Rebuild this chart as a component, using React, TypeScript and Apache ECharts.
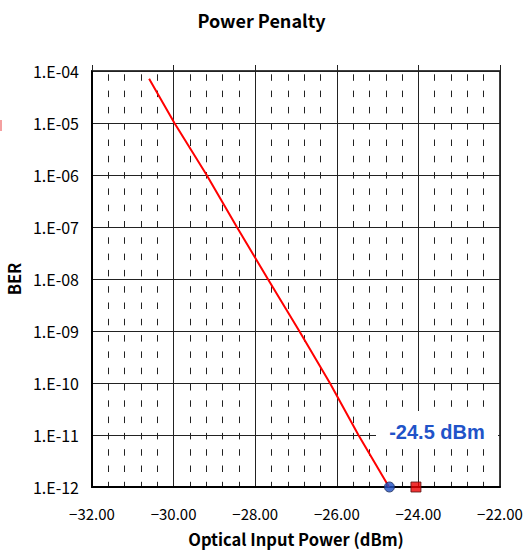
import React, { useEffect, useRef } from "react";
import * as echarts from "echarts";

const TITLE = "Power Penalty";
const X_NAME = "Optical Input Power (dBm)";
const Y_NAME = "BER";
// BER curve: [optical input power (dBm), BER]
const curvePower = [-30.6, -29.98, -29.19, -28.45, -27.69, -26.92, -26.17, -25.47, -24.72];
const curveBer = [7.1e-5, 1e-5, 1e-6, 1e-7, 1e-8, 1e-9, 1e-10, 1e-11, 1e-12];
const sensitivityPoint = [-24.71, 1e-12];
const penaltyPoint = [-24.06, 1e-12];
const annotationText = "-24.5 dBm";

const FONT = "'Noto Sans CJK JP', 'DejaVu Sans', sans-serif";

export default function App() {
  const ref = useRef<HTMLDivElement>(null);
  useEffect(() => {
    if (!ref.current) return;
    const chart = echarts.init(ref.current, undefined, { renderer: "svg" });
    const xCommon = {
      type: "value",
      min: -32,
      max: -22,
      interval: 2,
    };
    chart.setOption({
      animation: false,
      backgroundColor: "#fff",
      title: {
        text: TITLE,
        left: "center",
        top: 6,
        textStyle: { fontFamily: FONT, fontSize: 18, fontWeight: "bold", color: "#000" },
      },
      grid: {
        left: 92,
        right: 23,
        top: 71,
        bottom: 64,
        containLabel: false,
        outerBoundsMode: "none",
        show: true,
        borderColor: "#000",
        borderWidth: 1.5,
        backgroundColor: "transparent",
      },
      xAxis: [
        {
          ...xCommon,
          position: "bottom",
          name: X_NAME,
          nameLocation: "middle",
          nameGap: 44,
          nameTextStyle: { fontFamily: FONT, fontSize: 16.5, fontWeight: "bold", color: "#000" },
          axisLine: { show: true, lineStyle: { color: "#000", width: 2 } },
          axisTick: { show: false },
          axisLabel: {
            margin: 19,
            fontFamily: FONT,
            fontSize: 15,
            color: "#000",
            formatter: (v: number) => (v < 0 ? "\u2212" + Math.abs(v).toFixed(2) : v.toFixed(2)),
          },
          splitLine: { show: true, lineStyle: { color: "#222", width: 1 } },
          minorTick: { show: false, splitNumber: 5 },
          minorSplitLine: {
            show: true,
            lineStyle: { color: "#222", width: 1, type: [6.5, 9.8], dashOffset: 13 },
          },
        },
        {
          ...xCommon,
          position: "top",
          axisLine: { show: false },
          axisTick: { show: true, inside: false, length: 6, lineStyle: { color: "#222" } },
          axisLabel: { show: false },
          splitLine: { show: false },
        },
      ],
      yAxis: {
        type: "log",
        logBase: 10,
        min: 1e-12,
        max: 1e-4,
        interval: 1,
        name: Y_NAME,
        nameLocation: "middle",
        nameGap: 66,
        nameRotate: 90,
        nameTextStyle: { fontFamily: FONT, fontSize: 16.5, fontWeight: "bold", color: "#000" },
        axisLine: { show: true, lineStyle: { color: "#000", width: 2 } },
        axisTick: { show: false },
        axisLabel: {
          margin: 13,
          fontFamily: FONT,
          fontSize: 16,
          color: "#000",
          formatter: (v: number) => {
            const e = Math.round(Math.log10(v));
            const s = String(Math.abs(e)).padStart(2, "0");
            return "1.E" + (e < 0 ? "-" : "+") + s;
          },
        },
        splitLine: { show: true, lineStyle: { color: "#222", width: 1 } },
      },
      graphic: [
        { type: "rect", left: 0, top: 120, shape: { width: 2, height: 11 }, style: { fill: "#f4a0a0" }, z: 10 },
        { type: "rect", shape: { x: 376, y: 411, width: 122, height: 38 }, style: { fill: "#fff" }, z: 5 },
        {
          type: "text",
          x: 437,
          y: 432,
          style: {
            text: annotationText,
            fill: "#2153c8",
            font: "bold 20px 'Liberation Sans', Arial, sans-serif",
            textAlign: "center",
            textVerticalAlign: "middle",
          },
          z: 6,
        },
      ],
      series: [
        {
          type: "line",
          data: curvePower.map((p, i) => [p, curveBer[i]]),
          showSymbol: false,
          lineStyle: { color: "#ff0000", width: 2 },
          z: 3,
        },
        {
          type: "scatter",
          data: [sensitivityPoint],
          symbol: "circle",
          symbolSize: 10,
          clip: false,
          itemStyle: { color: "#1f4fc4", borderColor: "#1a2a55", borderWidth: 1 },
          z: 7,
        },
        {
          type: "scatter",
          data: [penaltyPoint],
          symbol: "rect",
          symbolSize: 10,
          clip: false,
          itemStyle: { color: "#ee0000", borderColor: "#551111", borderWidth: 1 },
          z: 7,
        },
      ],
    });
    return () => chart.dispose();
  }, []);
  return <div ref={ref} style={{ width: 523, height: 551, position: "absolute", left: 0, top: 0 }} />;
}
